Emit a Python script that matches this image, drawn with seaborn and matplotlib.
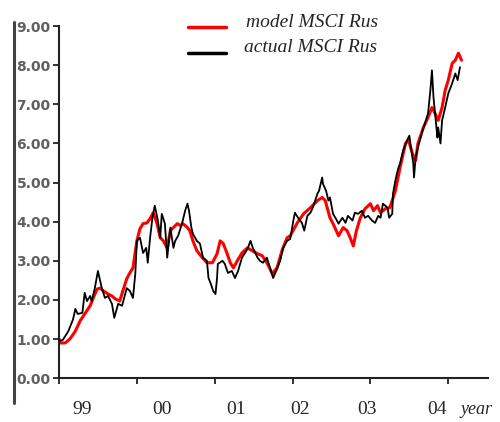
import matplotlib
matplotlib.use("Agg")
import matplotlib.pyplot as plt
from matplotlib.lines import Line2D
import seaborn as sns

# actual MSCI Russia index (black)
actual_x = [1999.00, 1999.01, 1999.05, 1999.12, 1999.18, 1999.21, 1999.24, 1999.30, 1999.33, 1999.36,
            1999.40, 1999.42, 1999.46, 1999.50, 1999.55, 1999.59, 1999.63, 1999.68, 1999.71, 1999.76,
            1999.81, 1999.87, 1999.91, 1999.95, 1999.98, 2000.00, 2000.04, 2000.08, 2000.12, 2000.14,
            2000.17, 2000.20, 2000.23, 2000.27, 2000.30, 2000.32, 2000.36, 2000.39, 2000.43, 2000.47,
            2000.49, 2000.53, 2000.58, 2000.62, 2000.65, 2000.67, 2000.70, 2000.72, 2000.77, 2000.81,
            2000.85, 2000.90, 2000.92, 2000.95, 2000.98, 2001.01, 2001.03, 2001.04, 2001.10, 2001.13,
            2001.17, 2001.22, 2001.26, 2001.30, 2001.35, 2001.42, 2001.46, 2001.49, 2001.55, 2001.58,
            2001.62, 2001.67, 2001.71, 2001.75, 2001.80, 2001.84, 2001.88, 2001.93, 2001.97, 2002.01,
            2002.03, 2002.07, 2002.12, 2002.15, 2002.19, 2002.23, 2002.26, 2002.32, 2002.34, 2002.38,
            2002.39, 2002.43, 2002.46, 2002.48, 2002.52, 2002.55, 2002.59, 2002.64, 2002.68, 2002.71,
            2002.77, 2002.80, 2002.84, 2002.89, 2002.93, 2002.97, 2003.02, 2003.06, 2003.10, 2003.13,
            2003.16, 2003.22, 2003.24, 2003.28, 2003.29, 2003.32, 2003.34, 2003.36, 2003.38, 2003.42,
            2003.47, 2003.50, 2003.52, 2003.55, 2003.56, 2003.58, 2003.61, 2003.67, 2003.70, 2003.74,
            2003.77, 2003.79, 2003.81, 2003.83, 2003.86, 2003.87, 2003.90, 2003.92, 2003.96, 2004.00,
            2004.05, 2004.09, 2004.12, 2004.15]
actual_y = [1.03, 0.95, 0.98, 1.20, 1.50, 1.77, 1.64, 1.67, 2.18, 1.97,
            2.10, 1.97, 2.30, 2.74, 2.30, 2.05, 2.10, 1.90, 1.54, 1.90,
            1.85, 2.30, 2.23, 2.05, 2.67, 3.51, 3.59, 3.20, 3.33, 2.95,
            3.59, 4.10, 4.41, 4.03, 3.59, 4.20, 3.95, 3.08, 3.85, 3.33,
            3.50, 3.64, 3.95, 4.28, 4.46, 4.28, 3.85, 3.69, 3.51, 3.44,
            3.08, 3.00, 2.56, 2.41, 2.23, 2.15, 2.56, 2.92, 3.00, 2.92,
            2.69, 2.74, 2.56, 2.74, 3.08, 3.30, 3.51, 3.33, 3.08, 3.00,
            2.95, 3.08, 2.82, 2.56, 2.79, 3.00, 3.33, 3.51, 3.56, 4.03,
            4.23, 4.10, 3.97, 3.77, 4.15, 4.23, 4.36, 4.72, 4.79, 5.13,
            4.97, 4.79, 4.54, 4.62, 4.20, 4.10, 3.95, 4.10, 3.97, 4.15,
            4.03, 4.23, 4.20, 4.28, 4.10, 4.15, 4.03, 3.97, 4.15, 4.10,
            4.46, 4.36, 4.10, 4.20, 4.72, 5.05, 5.23, 5.38, 5.49, 5.82,
            6.08, 6.20, 5.90, 5.49, 5.13, 5.64, 5.90, 6.33, 6.51, 6.77,
            7.36, 7.87, 7.18, 6.77, 6.15, 6.41, 6.00, 6.59, 6.92, 7.28,
            7.54, 7.79, 7.62, 7.95]

# model MSCI Russia index (red)
model_x = [1999.00, 1999.01, 1999.08, 1999.14, 1999.21, 1999.27, 1999.33, 1999.40, 1999.44, 1999.49,
           1999.53, 1999.57, 1999.63, 1999.68, 1999.72, 1999.78, 1999.82, 1999.87, 1999.91, 1999.95,
           2000.00, 2000.04, 2000.08, 2000.13, 2000.17, 2000.21, 2000.26, 2000.30, 2000.34, 2000.39,
           2000.43, 2000.47, 2000.52, 2000.56, 2000.59, 2000.65, 2000.68, 2000.72, 2000.77, 2000.84,
           2000.90, 2000.97, 2001.03, 2001.07, 2001.11, 2001.16, 2001.20, 2001.24, 2001.29, 2001.35,
           2001.42, 2001.48, 2001.55, 2001.61, 2001.67, 2001.74, 2001.80, 2001.87, 2001.93, 2001.97,
           2002.06, 2002.14, 2002.23, 2002.32, 2002.38, 2002.42, 2002.48, 2002.52, 2002.59, 2002.65,
           2002.70, 2002.74, 2002.78, 2002.82, 2002.87, 2002.93, 2003.00, 2003.04, 2003.09, 2003.13,
           2003.19, 2003.25, 2003.32, 2003.38, 2003.45, 2003.49, 2003.54, 2003.58, 2003.61, 2003.68,
           2003.74, 2003.79, 2003.83, 2003.87, 2003.92, 2003.96, 2004.00, 2004.05, 2004.09, 2004.13,
           2004.17]
model_y = [1.00, 0.90, 0.90, 1.00, 1.20, 1.46, 1.64, 1.85, 2.05, 2.28,
           2.30, 2.23, 2.15, 2.10, 2.03, 1.97, 2.23, 2.54, 2.69, 2.82,
           3.51, 3.82, 3.95, 3.97, 4.08, 4.23, 3.95, 3.59, 3.51, 3.33,
           3.77, 3.85, 3.95, 3.90, 3.95, 3.85, 3.77, 3.51, 3.26, 3.08,
           2.95, 2.95, 3.18, 3.51, 3.44, 3.18, 2.95, 2.82, 3.00, 3.20,
           3.33, 3.26, 3.18, 3.13, 2.95, 2.67, 2.82, 3.30, 3.59, 3.64,
           3.97, 4.20, 4.36, 4.54, 4.62, 4.54, 4.10, 3.95, 3.64, 3.85,
           3.77, 3.59, 3.38, 3.77, 4.10, 4.33, 4.46, 4.28, 4.41, 4.23,
           4.33, 4.36, 4.79, 5.38, 6.00, 6.08, 5.74, 5.56, 6.00, 6.41,
           6.67, 6.92, 6.77, 6.59, 6.92, 7.36, 7.62, 8.05, 8.13, 8.31,
           8.13]

years = [1999, 2000, 2001, 2002, 2003, 2004]
year_labels = ["99", "00", "01", "02", "03", "04"]
label_pos = [1999.30, 2000.32, 2001.27, 2002.10, 2002.95, 2003.85]
y_ticks = [0, 1, 2, 3, 4, 5, 6, 7, 8, 9]

sns.set_style("ticks")

fig = plt.figure(figsize=(5.0, 4.22), dpi=100)
ax = fig.add_axes([0.118, 0.104, 0.858, 0.834])

sns.lineplot(x=model_x, y=model_y, ax=ax, color="#ff0000", linewidth=2.2)
sns.lineplot(x=actual_x, y=actual_y, ax=ax, color="black", linewidth=1.3)

ax.set_xlim(1999.0, 2004.51)
ax.set_ylim(0, 9)
ax.set_yticks(y_ticks)
ax.set_yticklabels([f"{v:.2f}" for v in y_ticks], fontsize=10, fontweight="bold",
                   color="#606060", family="DejaVu Sans")
ax.set_xticks(years)
ax.set_xticklabels([])
ax.tick_params(axis="both", direction="out", length=4, width=1.3, color="#222222", pad=2)
ax.set_xlabel("")
ax.set_ylabel("")

sns.despine(ax=ax)
for side in ["left", "bottom"]:
    ax.spines[side].set_linewidth(1.5)
    ax.spines[side].set_color("#222222")

for lab, pos in zip(year_labels, label_pos):
    ax.text(pos, -0.09, lab, transform=ax.get_xaxis_transform(), ha="center", va="center",
            fontsize=14, family="Liberation Serif")
ax.text(2004.16, -0.09, "year", transform=ax.get_xaxis_transform(), ha="left", va="center",
        fontsize=13, family="Liberation Serif", fontstyle="italic")

# manual legend
fig.add_artist(Line2D([188 / 500, 226 / 500], [1 - 27 / 422] * 2, color="#ff0000", lw=2.5))
fig.add_artist(Line2D([188 / 500, 226 / 500], [1 - 53 / 422] * 2, color="black", lw=2.5))
fig.text(246 / 500, 1 - 27 / 422, "model MSCI Rus", va="baseline", ha="left",
         fontsize=14, family="Liberation Serif", fontstyle="italic")
fig.text(244 / 500, 1 - 52 / 422, "actual MSCI Rus", va="baseline", ha="left",
         fontsize=14, family="Liberation Serif", fontstyle="italic")

# left frame line
fig.add_artist(Line2D([14 / 500, 14 / 500], [1 - 22 / 422, 1 - 403 / 422], color="#444444", lw=2.2))

fig.savefig("out.png", dpi=100)
